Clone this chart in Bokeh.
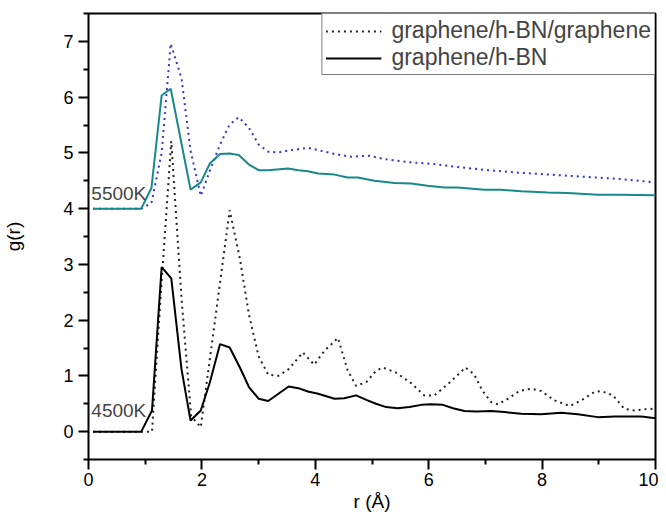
from bokeh.plotting import figure
from bokeh.models import (FixedTicker, Legend, LegendItem, Label)
from bokeh.embed import file_html
from bokeh.resources import INLINE

# ---- data ----
# 4500K graphene/h-BN (solid black)
r_4500_hbn = [0.08, 0.93, 1.12, 1.29, 1.46, 1.64, 1.80, 1.98, 2.14, 2.32, 2.49, 2.67, 2.83, 3.00, 3.17,
              3.35, 3.53, 3.70, 3.87, 4.05, 4.34, 4.51, 4.72, 4.90, 5.07, 5.25, 5.45, 5.66, 5.87, 6.04,
              6.25, 6.43, 6.63, 6.84, 7.10, 7.34, 7.63, 7.98, 8.34, 8.63, 8.98, 9.28, 9.51, 9.75, 10.0]
g_4500_hbn = [0, 0, 0.38, 2.95, 2.75, 1.12, 0.20, 0.38, 0.88, 1.57, 1.51, 1.15, 0.80, 0.59, 0.55,
              0.68, 0.81, 0.78, 0.72, 0.68, 0.59, 0.60, 0.65, 0.57, 0.50, 0.44, 0.42, 0.44, 0.48, 0.49,
              0.48, 0.42, 0.37, 0.36, 0.37, 0.35, 0.32, 0.31, 0.34, 0.31, 0.26, 0.27, 0.27, 0.27, 0.24]

# 4500K graphene/h-BN/graphene (dotted black)
r_4500_ghg = [0.08, 1.12, 1.29, 1.46, 1.64, 1.81, 1.98, 2.14, 2.32, 2.49, 2.67, 2.83, 3.00, 3.17, 3.35,
              3.53, 3.78, 3.98, 4.16, 4.40, 4.57, 4.72, 4.90, 5.07, 5.19, 5.42, 5.69, 5.92, 6.10, 6.37,
              6.65, 6.80, 6.95, 7.10, 7.22, 7.40, 7.60, 7.81, 7.98, 8.22, 8.49, 8.69, 8.92, 9.04, 9.25,
              9.45, 9.63, 9.90, 10.0]
g_4500_ghg = [0, 0, 2.7, 5.21, 2.4, 0.28, 0.08, 1.3, 2.67, 3.97, 3.1, 2.1, 1.35, 1.02, 1.0,
              1.12, 1.42, 1.2, 1.45, 1.68, 1.1, 0.82, 0.89, 1.09, 1.15, 1.06, 0.87, 0.65, 0.65, 0.88,
              1.15, 1.03, 0.73, 0.53, 0.49, 0.59, 0.73, 0.77, 0.73, 0.56, 0.46, 0.56, 0.71, 0.73, 0.65,
              0.41, 0.38, 0.41, 0.40]

# 5500K graphene/h-BN (solid teal)
r_5500_hbn = [0.08, 0.93, 1.11, 1.29, 1.45, 1.80, 1.98, 2.14, 2.32, 2.49, 2.65, 2.83, 3.00, 3.17, 3.52,
              3.70, 3.87, 4.05, 4.34, 4.57, 4.75, 5.04, 5.40, 5.69, 5.98, 6.28, 6.51, 6.98, 7.28, 7.63,
              8.10, 8.45, 8.98, 9.39, 10.0]
g_5500_hbn = [4.0, 4.0, 4.37, 6.03, 6.15, 4.34, 4.47, 4.81, 4.98, 4.99, 4.96, 4.79, 4.69, 4.69, 4.72,
              4.69, 4.67, 4.63, 4.61, 4.56, 4.56, 4.50, 4.46, 4.45, 4.41, 4.38, 4.38, 4.34, 4.34, 4.31,
              4.29, 4.28, 4.25, 4.25, 4.24]

# 5500K graphene/h-BN/graphene (dotted blue)
r_5500_ghg = [0.08, 0.93, 1.11, 1.29, 1.45, 1.64, 1.80, 1.98, 2.14, 2.32, 2.49, 2.65, 2.83, 3.00, 3.17,
              3.35, 3.52, 3.87, 4.05, 4.34, 4.63, 4.93, 5.22, 5.69, 6.10, 6.57, 7.04, 7.51, 7.98, 8.45,
              8.92, 9.39, 10.0]
g_5500_ghg = [4.0, 4.0, 4.1, 5.0, 6.96, 6.34, 5.04, 4.23, 4.68, 5.15, 5.51, 5.64, 5.45, 5.15, 5.02,
              5.01, 5.04, 5.09, 5.05, 4.98, 4.93, 4.95, 4.89, 4.83, 4.80, 4.74, 4.69, 4.65, 4.62, 4.59,
              4.56, 4.53, 4.47]

series_names = ["graphene/h-BN/graphene", "graphene/h-BN"]
temp_labels = ["5500K", "4500K"]
x_ticks = [0, 2, 4, 6, 8, 10]
x_minor = [1, 3, 5, 7, 9]
y_ticks = [0, 1, 2, 3, 4, 5, 6, 7]
y_minor = [-0.5, 0.5, 1.5, 2.5, 3.5, 4.5, 5.5, 6.5, 7.5]
Y_TOP = 7.5

FONT = "Liberation Sans"

p = figure(width=658, height=514, x_range=(0, 10), y_range=(-0.5, Y_TOP),
           output_backend="svg", toolbar_location=None,
           min_border_left=83, min_border_right=3, min_border_top=13, min_border_bottom=54)

p.xgrid.grid_line_color = None
p.ygrid.grid_line_color = None
p.outline_line_color = "black"
p.outline_line_width = 2

teal = "#17898A"
blue = "#3535C8"

l_d = p.line(r_5500_ghg, g_5500_ghg, line_color=blue, line_width=2, line_dash="2 4")
l_c = p.line(r_5500_hbn, g_5500_hbn, line_color=teal, line_width=2)
l_b = p.line(r_4500_ghg, g_4500_ghg, line_color="#222222", line_width=2, line_dash="2 4")
l_a = p.line(r_4500_hbn, g_4500_hbn, line_color="black", line_width=2)

for ax in (p.xaxis[0], p.yaxis[0]):
    ax.major_tick_line_color = "black"
    ax.minor_tick_line_color = "black"
    ax.major_tick_line_width = 2
    ax.minor_tick_line_width = 2
    ax.major_tick_out = 10
    ax.major_tick_in = 0
    ax.minor_tick_out = 5
    ax.minor_tick_in = 0
    ax.major_label_text_font = FONT
    ax.major_label_text_font_size = "18px"
    ax.major_label_text_color = "black"
    ax.axis_label_text_font = FONT
    ax.axis_label_text_font_size = "19px"
    ax.axis_label_text_font_style = "normal"
    ax.axis_label_text_color = "black"

p.xaxis[0].ticker = FixedTicker(ticks=x_ticks, minor_ticks=x_minor)
p.yaxis[0].ticker = FixedTicker(ticks=y_ticks, minor_ticks=y_minor)
p.xaxis[0].axis_label = "r (Å)"
p.yaxis[0].axis_label = "g(r)"
p.xaxis[0].major_label_standoff = 3
p.yaxis[0].major_label_standoff = 5
p.xaxis[0].axis_label_standoff = 2
p.yaxis[0].axis_label_standoff = 36

legend = Legend(items=[LegendItem(label=series_names[0], renderers=[l_b]),
                       LegendItem(label=series_names[1], renderers=[l_a])],
                location="top_right", margin=0, padding=3, spacing=0,
                glyph_width=56, label_standoff=10,
                label_text_font=FONT, label_text_font_size="23px",
                border_line_color="black", border_line_width=1,
                background_fill_color="white", background_fill_alpha=1.0)
p.add_layout(legend)

p.add_layout(Label(x=0.05, y=4.28, text=temp_labels[0], text_font=FONT,
                   text_font_size="19px", text_baseline="alphabetic"))
p.add_layout(Label(x=0.05, y=0.38, text=temp_labels[1], text_font=FONT,
                   text_font_size="19px", text_baseline="alphabetic"))

open("out.html", "w").write(file_html(p, INLINE))
